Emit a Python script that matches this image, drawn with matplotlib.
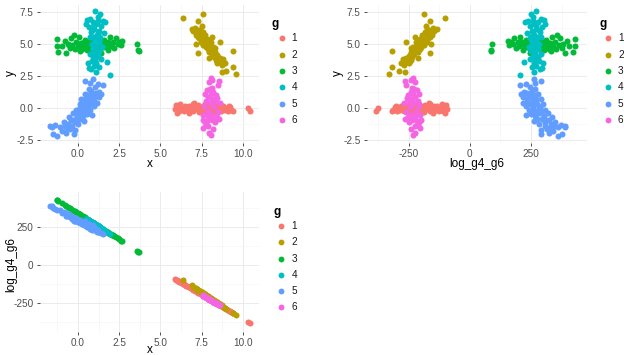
import matplotlib
matplotlib.use("Agg")
import matplotlib.pyplot as plt
from matplotlib.lines import Line2D

plt.rcParams['font.family'] = ['Liberation Sans', 'DejaVu Sans']
plt.rcParams['axes.unicode_minus'] = False

groups = ['1', '2', '3', '4', '5', '6']
colors = ['#F8766D', '#B79F00', '#00BA38', '#00BFC4', '#619CFF', '#F564E3']

# group 1
g1_x = [5.90, 5.95, 6.00, 6.05, 6.15, 6.20, 6.30, 6.40, 6.50, 6.60, 6.70, 6.75,
        6.85, 6.95, 7.00, 7.10, 7.20, 7.30, 7.35, 7.45, 7.55, 7.60, 7.70, 7.75,
        7.85, 7.90, 8.00, 8.05, 8.15, 8.20, 8.30, 8.40, 8.45, 8.55, 8.65, 8.70,
        8.80, 8.90, 9.00, 9.10, 9.20, 9.30, 9.40, 10.30, 10.45, 6.10, 7.05, 8.60,
        6.55, 6.90, 7.25, 7.65, 7.95, 8.25, 8.50, 8.85, 9.15, 6.35]
g1_y = [-0.05, 0.25, -0.40, 0.10, -0.20, 0.35, 0.05, -0.25, 0.20, -0.10, 0.15, -0.35,
        0.05, 0.30, -0.20, 0.10, -0.05, 0.25, -0.30, 0.00, 0.20, -0.15, 0.35, -0.40,
        0.05, 0.25, -0.20, 0.10, -0.05, 0.30, -0.30, 0.15, -0.10, 0.20, -0.25, 0.05,
        0.15, -0.15, 0.00, -0.25, 0.10, -0.10, -0.20, 0.05, -0.25, 0.00, 0.40, 0.35,
        0.00, -0.10, 0.15, 0.00, 0.10, -0.15, 0.05, -0.05, 0.20, -0.05]
g1_log = [-95, -98, -103, -105, -111, -114, -121, -127, -133, -140, -146, -149,
          -156, -162, -165, -172, -178, -185, -188, -194, -201, -204, -210, -213,
          -220, -223, -229, -233, -239, -242, -249, -255, -258, -265, -271, -274,
          -281, -287, -293, -300, -306, -313, -319, -377, -386, -108, -169, -268,
          -137, -159, -182, -207, -226, -245, -261, -284, -303, -124]

# group 2
g2_x = [6.38, 7.60, 7.28, 6.88, 7.00, 7.10, 7.20, 7.30, 7.15, 7.40, 7.35, 7.50,
        7.55, 7.65, 7.45, 7.70, 7.80, 7.60, 7.75, 7.90, 7.85, 8.00, 8.05, 7.95,
        8.10, 8.20, 8.15, 8.30, 8.25, 8.40, 8.35, 8.50, 8.55, 8.65, 8.45, 8.75,
        8.80, 8.90, 7.18, 7.28, 9.40, 8.70, 9.00, 9.40, 9.55, 8.40, 7.50, 8.60,
        8.10, 7.95, 7.25, 7.55, 7.70, 7.85, 8.00, 8.15, 8.30, 8.45, 7.40, 8.60]
g2_y = [7.05, 7.38, 6.80, 6.20, 6.05, 6.30, 5.95, 6.15, 5.70, 5.85, 5.50, 5.75,
        5.35, 5.60, 5.20, 5.15, 5.40, 4.95, 4.80, 5.00, 4.60, 4.75, 5.20, 4.40,
        4.50, 4.80, 4.20, 4.40, 4.00, 4.15, 3.80, 3.95, 3.60, 3.75, 3.50, 3.40,
        3.85, 3.55, 5.03, 4.30, 4.45, 2.80, 2.90, 3.20, 2.70, 3.73, 6.40, 5.20,
        5.60, 3.90, 5.55, 5.95, 5.75, 5.25, 5.05, 4.55, 4.70, 4.05, 6.10, 3.90]
g2_log = [-100, -188, -165, -136, -145, -152, -159, -167, -156, -174, -170, -181,
          -185, -192, -177, -195, -203, -188, -199, -210, -206, -217, -221, -213,
          -224, -231, -228, -239, -235, -246, -242, -253, -257, -264, -249, -271,
          -275, -282, -158, -165, -318, -267, -289, -318, -329, -246, -181, -260,
          -224, -213, -163, -185, -195, -206, -217, -228, -239, -249, -174, -260]

# group 3
g3_x = [-1.30, -1.30, -1.20, -0.95, -0.80, -0.70, -0.60, -0.50, -0.40, -0.35, -0.20, -0.10,
        0.00, 0.05, 0.15, 0.20, 0.30, 0.40, 0.45, 0.55, 0.60, 0.70, 0.80, 0.85,
        0.95, 1.05, 1.15, 1.20, 1.30, 1.35, 1.45, 1.55, 1.60, 1.70, 1.80, 1.85,
        1.95, 2.00, 2.10, 2.20, 2.30, 2.40, 2.50, 2.60, 2.65, 3.60, 3.65, 3.70,
        -0.25, 1.40, 0.10, 0.35, 0.65, 0.90, 1.10, 1.50, 1.75, 2.05, -0.55, 0.25]
g3_y = [5.40, 4.90, 4.40, 4.85, 5.25, 4.30, 5.05, 4.70, 5.45, 4.95, 4.60, 5.20,
        4.85, 5.60, 4.50, 5.10, 4.75, 5.30, 4.90, 4.55, 5.15, 4.80, 5.40, 4.65,
        5.00, 4.70, 5.25, 4.85, 5.55, 4.60, 5.05, 4.75, 5.35, 4.95, 4.55, 5.20,
        5.60, 4.85, 5.15, 4.70, 5.45, 5.05, 5.20, 4.95, 5.25, 5.00, 4.55, 4.45,
        5.75, 4.30, 5.00, 5.20, 4.95, 5.25, 4.95, 5.15, 5.05, 5.00, 4.95, 4.60]
g3_log = [430, 430, 423, 406, 396, 389, 382, 375, 368, 364, 354, 347,
          340, 337, 330, 326, 320, 313, 309, 302, 299, 292, 285, 282,
          275, 268, 261, 257, 251, 247, 240, 233, 230, 223, 216, 213,
          206, 202, 195, 188, 182, 175, 168, 161, 157, 92, 88, 85,
          357, 244, 333, 316, 295, 278, 264, 237, 220, 199, 378, 323]

# group 4
g4_x = [1.03, 1.33, 1.20, 0.55, 0.75, 1.50, 0.90, 1.10, 1.40, 0.65, 1.00, 1.25,
        0.80, 1.55, 1.15, 0.95, 1.35, 0.70, 1.05, 1.25, 0.85, 1.10, 0.90, 1.30,
        1.05, 0.75, 1.20, 0.95, 1.40, 0.85, 1.10, 0.60, 1.00, 1.25, 0.80, 1.10,
        0.65, 1.75, 1.95, 1.45, 0.50, 1.65, 1.00, 0.85, 1.20, 0.95, 1.15, 0.90,
        1.05, 1.20]
g4_y = [7.60, 7.40, 7.15, 6.90, 6.95, 6.85, 6.70, 6.55, 6.40, 6.35, 6.20, 6.05,
        5.95, 5.90, 5.75, 5.55, 5.45, 5.60, 5.30, 5.15, 5.05, 4.85, 4.60, 4.50,
        4.30, 4.20, 4.05, 3.95, 3.85, 3.70, 3.55, 3.50, 3.30, 3.20, 3.05, 2.85,
        3.15, 3.65, 2.60, 4.75, 6.60, 6.70, 6.50, 6.10, 5.90, 5.10, 4.40, 4.00,
        3.75, 6.80]
g4_log = [269, 249, 258, 302, 289, 237, 278, 264, 244, 295, 271, 254,
          285, 233, 261, 275, 247, 292, 268, 254, 282, 264, 278, 251,
          268, 289, 258, 275, 244, 282, 264, 299, 271, 254, 285, 264,
          295, 220, 206, 240, 306, 226, 271, 282, 258, 275, 261, 278,
          268, 258]

# group 5
g5_x = [-1.70, -1.55, -1.40, -1.27, -1.50, -1.10, -0.95, -0.80, -0.70, -0.60, -0.50, -0.40,
        -0.35, -0.20, -0.15, -0.05, 0.00, 0.10, 0.15, -0.30, 0.25, 0.30, 0.35, 0.40,
        0.50, 0.55, 0.60, 0.70, 0.75, 0.80, 0.90, 0.95, 1.00, 1.10, 1.15, 1.25,
        1.30, 0.20, 0.45, 0.65, 0.42, 0.90, 1.20, 1.50, 0.75, 1.05, -0.55, 0.10,
        -0.10, 0.85, 1.40, -0.25, -0.30, 0.05, 0.20, 0.35, 0.50, 0.65, 0.30, -0.10,
        0.45, 0.60, 0.95, -0.65, -0.85, 0.15, 0.80]
g5_y = [-1.35, -1.45, -1.30, -2.20, -2.00, -1.50, -1.80, -1.40, -1.95, -1.20, -1.60, -0.90,
        -1.35, -1.05, -1.70, -0.60, -1.20, -0.30, -0.85, -0.40, -0.55, 0.10, -1.00, -0.20,
        0.40, -0.45, 0.15, 0.70, -0.10, 0.35, 1.00, 0.20, 0.60, 1.20, 0.45, 0.90,
        1.30, 0.70, 1.10, 1.50, 2.15, 2.30, 1.90, 1.80, 2.00, 1.65, -0.70, 0.35,
        -0.15, -0.50, 1.10, -2.00, -0.90, -0.40, -0.10, 0.30, -0.10, 0.40, -0.60, -0.80,
        0.70, 1.00, 0.80, -1.55, -1.10, 0.10, 1.35]
g5_log = [390, 388, 372, 362, 376, 360, 340, 344, 324, 333, 314, 324,
          306, 309, 290, 302, 283, 293, 276, 318, 272, 282, 262, 271,
          270, 250, 259, 258, 240, 247, 246, 228, 234, 233, 216, 219,
          220, 292, 278, 268, 290, 262, 228, 204, 266, 244, 334, 298,
          308, 230, 208, 292, 312, 285, 283, 274, 257, 255, 268, 293,
          271, 262, 238, 325, 347, 287, 252]

# group 6
g6_x = [8.05, 8.15, 7.95, 8.55, 8.50, 7.80, 8.00, 8.20, 7.70, 8.35, 7.90, 8.10,
        8.45, 7.75, 8.30, 8.00, 8.60, 7.65, 8.25, 7.85, 8.50, 7.60, 8.15, 7.95,
        8.40, 7.55, 7.80, 8.10, 8.30, 7.70, 8.55, 7.60, 7.90, 7.95, 8.05, 8.20,
        8.05, 8.25, 7.90, 8.20, 8.10, 7.75]
g6_y = [2.35, 2.20, 2.05, 2.10, 1.85, 1.40, 1.50, 1.30, 1.15, 1.05, 0.90, 0.75,
        0.80, 0.60, 0.55, 0.40, 0.45, 0.20, 0.10, -0.20, -0.30, -0.50, -0.55, -0.75,
        -0.70, -0.90, -1.00, -0.95, -1.05, -1.10, -0.85, -1.55, -1.40, -1.95, -2.10, -1.60,
        1.10, 0.65, -0.60, -0.80, 1.60, -1.30]
g6_log = [-233, -239, -226, -265, -261, -217, -229, -242, -210, -252, -223, -236,
          -258, -213, -249, -229, -268, -207, -245, -220, -261, -204, -239, -226,
          -255, -201, -217, -236, -249, -210, -265, -204, -223, -226, -233, -242,
          -233, -245, -223, -242, -236, -213]

xs = [g1_x, g2_x, g3_x, g4_x, g5_x, g6_x]
ys = [g1_y, g2_y, g3_y, g4_y, g5_y, g6_y]
logs = [g1_log, g2_log, g3_log, g4_log, g5_log, g6_log]

W, H = 624, 355
fig = plt.figure(figsize=(W / 100, H / 100), dpi=100)
fig.patch.set_facecolor('white')

POINT_SIZE = 19


def add_axes_px(left, top, right, bottom):
    return fig.add_axes([left / W, 1 - bottom / H, (right - left) / W, (bottom - top) / H])


def style(ax, xmaj, xmin, ymaj, ymin, xlabels, ylabels):
    for s in ax.spines.values():
        s.set_visible(False)
    ax.set_xticks(xmaj)
    ax.set_xticks(xmin, minor=True)
    ax.set_yticks(ymaj)
    ax.set_yticks(ymin, minor=True)
    ax.set_xticklabels(xlabels)
    ax.set_yticklabels(ylabels)
    ax.grid(which='major', color='#EBEBEB', lw=0.7)
    ax.grid(which='minor', color='#F4F4F4', lw=0.45)
    ax.set_axisbelow(True)
    ax.tick_params(which='major', length=2.4, width=0.6, color='#333333',
                   labelsize=7.2, labelcolor='#4D4D4D', pad=2.2)
    ax.tick_params(which='minor', length=0)


def text_px(x, y, s, **kw):
    fig.text(x / W, 1 - y / H, s, **kw)


def legend_px(x_title, y_title, x_key, x_lab, item_ys):
    text_px(x_title, y_title, 'g', ha='left', va='center', fontsize=8.5,
            fontweight='bold', color='black')
    for lab, col, yy in zip(groups, colors, item_ys):
        fig.add_artist(Line2D([x_key / W], [1 - yy / H], marker='o', ms=4.2, mew=0,
                              color=col, transform=fig.transFigure))
        text_px(x_lab, yy, lab, ha='left', va='center', fontsize=7.2, color='#1A1A1A')


x_major = [0, 2.5, 5, 7.5, 10]
x_minor = [-1.25, 1.25, 3.75, 6.25, 8.75]
x_labels = ['0.0', '2.5', '5.0', '7.5', '10.0']
y_major = [-2.5, 0, 2.5, 5, 7.5]
y_minor = [-1.25, 1.25, 3.75, 6.25]
y_labels = ['-2.5', '0.0', '2.5', '5.0', '7.5']
log_major = [-250, 0, 250]
log_minor = [-375, -125, 125, 375]
log_labels = ['-250', '0', '250']

# x vs y
ax1 = add_axes_px(40.0, 4.7, 259.0, 142.7)
for gx, gy, col in zip(xs, ys, colors):
    ax1.scatter(gx, gy, s=POINT_SIZE, color=col, linewidths=0, zorder=3)
ax1.set_xlim(-2.3, 10.97)
ax1.set_ylim(-2.69, 8.09)
style(ax1, x_major, x_minor, y_major, y_minor, x_labels, y_labels)
text_px(150.0, 163.5, 'x', ha='center', va='center', fontsize=8.5)
text_px(11.0, 73.5, 'y', ha='center', va='center', fontsize=8.5, rotation=90)
legend_px(271, 24.5, 281.7, 291.5, [38.3, 54.8, 71.0, 87.3, 103.8, 119.8])

# log_g4_g6 vs y
ax2 = add_axes_px(367.0, 4.7, 587.0, 142.7)
for gl, gy, col in zip(logs, ys, colors):
    ax2.scatter(gl, gy, s=POINT_SIZE, color=col, linewidths=0, zorder=3)
ax2.set_xlim(-421, 479)
ax2.set_ylim(-2.69, 8.09)
style(ax2, log_major, log_minor, y_major, y_minor, log_labels, y_labels)
text_px(476.5, 164.0, 'log_g4_g6', ha='center', va='center', fontsize=8.5)
text_px(337.5, 73.5, 'y', ha='center', va='center', fontsize=8.5, rotation=90)
legend_px(599, 24.5, 608.3, 618.0, [38.3, 54.8, 71.0, 87.3, 103.8, 119.8])

# x vs log_g4_g6
ax3 = add_axes_px(40.0, 192.2, 259.0, 331.5)
for gx, gl, col in zip(xs, logs, colors):
    ax3.scatter(gx, gl, s=POINT_SIZE, color=col, linewidths=0, zorder=3)
ax3.set_xlim(-2.3, 10.97)
ax3.set_ylim(-440, 480)
style(ax3, x_major, x_minor, log_major, log_minor, x_labels, log_labels)
text_px(150.0, 350.0, 'x', ha='center', va='center', fontsize=8.5)
text_px(11.0, 264.0, 'log_g4_g6', ha='center', va='center', fontsize=8.5, rotation=90)
legend_px(273, 212.3, 281.2, 291.5, [225.7, 242.3, 258.7, 275.0, 291.2, 307.3])

fig.savefig('out.png', dpi=100, facecolor='white')
